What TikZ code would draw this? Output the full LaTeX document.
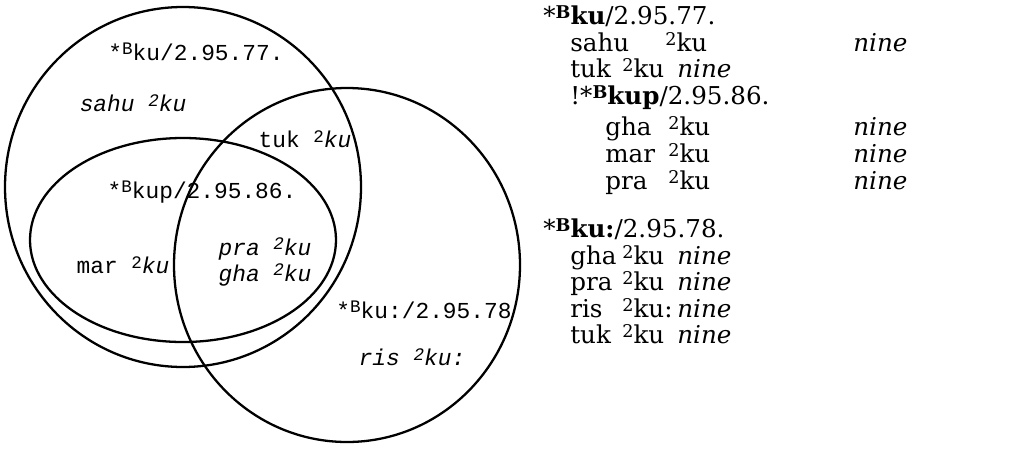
\documentclass[tikz,border=0pt]{standalone}
\usepackage{fontspec}
\usepackage{tikz}
\newfontfamily\typefont{Liberation Mono}
\newfontfamily\listfont{DejaVu Serif}
\newcommand{\pre}[1]{\raisebox{0.45ex}{\fontsize{10}{12}\selectfont #1}}

\tikzset{
  venn/.style={line width=1.3pt},
  tag/.style={font=\typefont\fontsize{13}{15}\selectfont, inner sep=0pt},
  gloss/.style={anchor=base west, inner sep=0pt, font=\listfont\fontsize{14}{16}\selectfont},
}

\begin{document}
\begin{tikzpicture}[x=0.02cm,y=-0.02cm]
\useasboundingbox (0,0) rectangle (1017,460);
% the three sets
\draw[venn] (183,187) ellipse [x radius=178, y radius=180];
\draw[venn] (183,240) ellipse [x radius=153, y radius=102];
\draw[venn] (347,265) ellipse [x radius=173, y radius=177];
% labels inside the sets
\node[tag] (ku) at (196,52) {*\pre{B}ku/2.95.77.};
\node[tag] (sahu) at (133,103) {\itshape sahu \pre{2}ku};
\node[tag] (tuk) at (305,139) {tuk \pre{2}\textit{ku}};
\node[tag] (kup) at (202,192) {*\pre{B}kup/2.95.86.};
\node[tag] (mar) at (123,265) {mar \pre{2}\textit{ku}};
\node[tag] (pra) at (265,249) {\itshape pra \pre{2}ku};
\node[tag] (gha) at (265,275) {\itshape gha \pre{2}ku};
\node[tag] (kuu) at (424,310) {*\pre{B}ku:/2.95.78};
\node[tag] (ris) at (412,357) {\itshape ris \pre{2}ku:};
% the list on the right
\node[gloss] (h1) at (543,24) {*\pre{\textbf{B}}\textbf{ku}/2.95.77.};
\node[gloss] at (570,51) {sahu};
\node[gloss] at (665,51) {\pre{2}ku};
\node[gloss] at (853,51) {\itshape nine};
\node[gloss] at (570,77) {tuk};
\node[gloss] at (622,77) {\pre{2}ku};
\node[gloss] at (677,77) {\itshape nine};
\node[gloss] (h2) at (570,104) {!*\pre{\textbf{B}}\textbf{kup}/2.95.86.};
\node[gloss] at (605,135) {gha};
\node[gloss] at (668,135) {\pre{2}ku};
\node[gloss] at (853,135) {\itshape nine};
\node[gloss] at (605,162) {mar};
\node[gloss] at (668,162) {\pre{2}ku};
\node[gloss] at (853,162) {\itshape nine};
\node[gloss] at (605,189) {pra};
\node[gloss] at (668,189) {\pre{2}ku};
\node[gloss] at (853,189) {\itshape nine};
\node[gloss] (h3) at (543,237) {*\pre{\textbf{B}}\textbf{ku:}/2.95.78.};
\node[gloss] at (570,264) {gha};
\node[gloss] at (622,264) {\pre{2}ku};
\node[gloss] at (677,264) {\itshape nine};
\node[gloss] at (570,290) {pra};
\node[gloss] at (622,290) {\pre{2}ku};
\node[gloss] at (677,290) {\itshape nine};
\node[gloss] at (570,317) {ris};
\node[gloss] at (622,317) {\pre{2}ku:};
\node[gloss] at (677,317) {\itshape nine};
\node[gloss] at (570,343) {tuk};
\node[gloss] at (622,343) {\pre{2}ku};
\node[gloss] at (677,343) {\itshape nine};
\end{tikzpicture}
\end{document}
